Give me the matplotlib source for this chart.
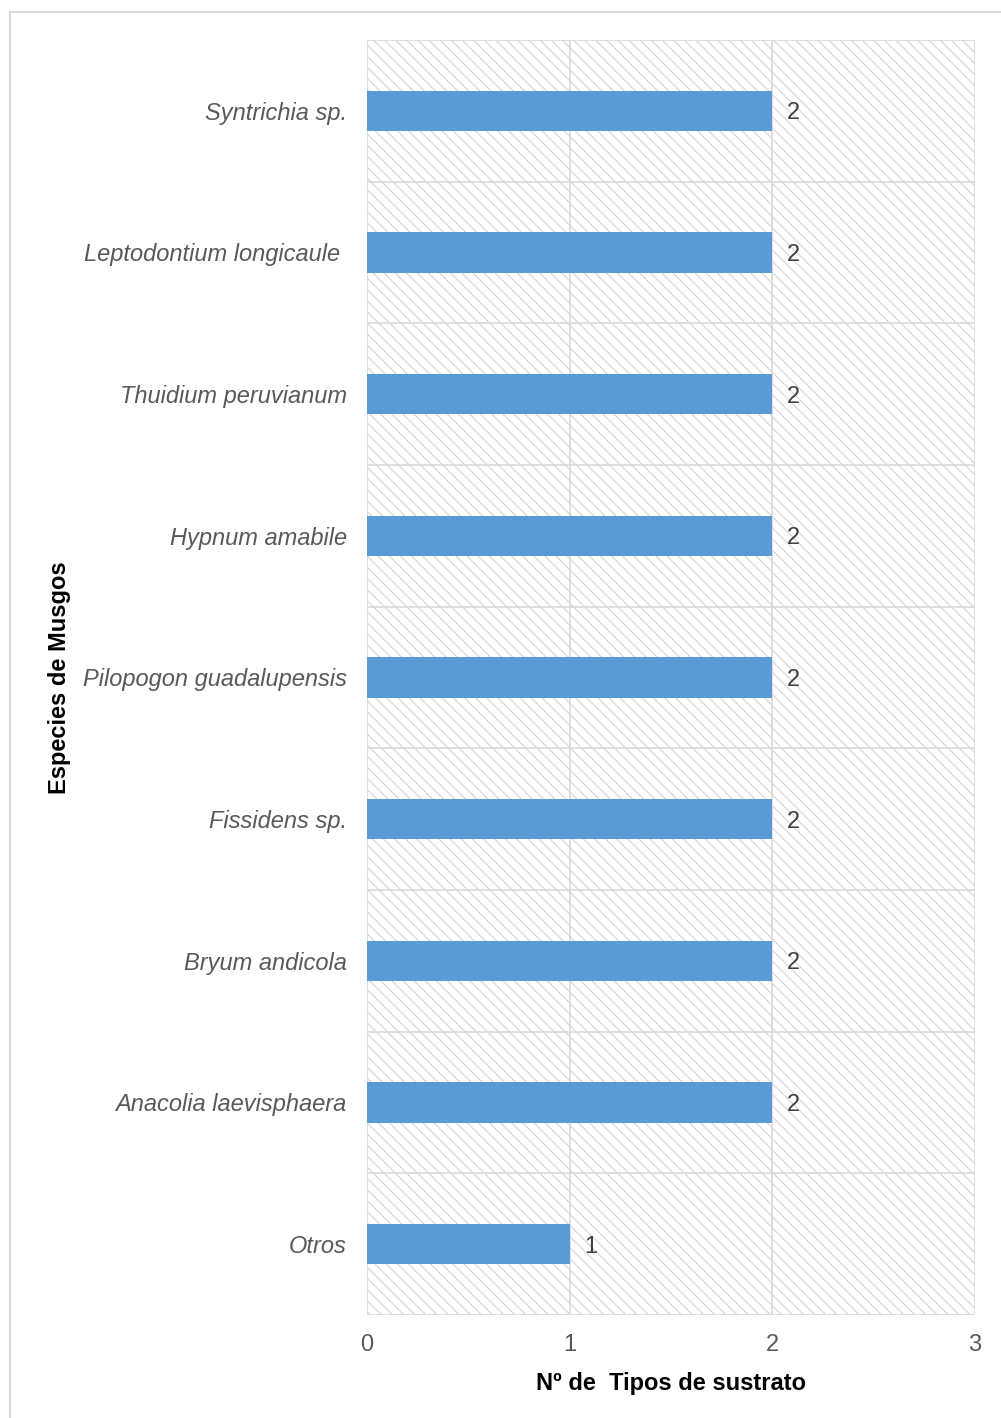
import matplotlib.pyplot as plt
from matplotlib.patches import Rectangle
from matplotlib.lines import Line2D

especies = ['Syntrichia sp.', 'Leptodontium longicaule ', 'Thuidium peruvianum',
            'Hypnum amabile', 'Pilopogon guadalupensis', 'Fissidens sp.',
            'Bryum andicola', 'Anacolia laevisphaera', 'Otros']
sustratos = [2, 2, 2, 2, 2, 2, 2, 2, 1]
xticks = [0, 1, 2, 3]

plt.rcParams['font.family'] = ['Liberation Sans', 'DejaVu Sans']
plt.rcParams['hatch.color'] = '#d4d4d4'
plt.rcParams['hatch.linewidth'] = 0.8

fig = plt.figure(figsize=(10.01, 14.18), dpi=100)
ax = fig.add_axes([367/1001, 1 - 1315/1418, 608/1001, 1275/1418])

# outer chart frame (left and top edges visible)
fig.add_artist(Line2D([10/1001, 10/1001], [0, 1 - 12/1418], color='#d9d9d9', lw=1.5,
                      transform=fig.transFigure))
fig.add_artist(Line2D([10/1001, 1], [1 - 12/1418, 1 - 12/1418], color='#d9d9d9', lw=1.5,
                      transform=fig.transFigure))

n = len(especies)
pos = list(range(n))

# hatched plot background
bs = chr(92)
ax.add_patch(Rectangle((0, -0.5), 3, n, facecolor='white', edgecolor='#d4d4d4',
                       hatch=bs * 3, lw=0, zorder=0))

bars = ax.barh(pos, sustratos, height=0.285, color='#5b9bd5', zorder=3)
for y, v in zip(pos, sustratos):
    ax.text(v + 0.07, y, str(v), va='center_baseline', ha='left', fontsize=17, color='#404040')

ax.set_xlim(0, 3)
ax.set_ylim(n - 0.5, -0.5)
ax.set_xticks(xticks)
ax.set_yticks(pos)
ax.set_yticklabels(especies, fontstyle='italic')
ax.set_yticks([i - 0.5 for i in range(n + 1)], minor=True)
ax.tick_params(axis='y', which='both', length=0, pad=14.5, labelsize=17, labelcolor='#595959')
ax.tick_params(axis='x', length=0, pad=14, labelsize=17, labelcolor='#595959')
ax.grid(axis='x', which='major', color='#d9d9d9', lw=1.2, zorder=1)
ax.grid(axis='y', which='minor', color='#d9d9d9', lw=1.2, zorder=1)
for s in ax.spines.values():
    s.set_visible(False)

ax.set_xlabel('Nº de  Tipos de sustrato', fontsize=17, fontweight='bold', labelpad=11)
ax.set_ylabel('Especies de Musgos', fontsize=17, fontweight='bold')
ax.yaxis.set_label_coords(-0.487, 0.5)

fig.savefig('out.png', dpi=100)
